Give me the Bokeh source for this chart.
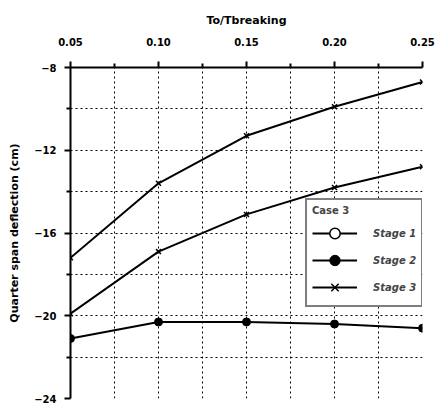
from bokeh.plotting import figure
from bokeh.models import ColumnDataSource, FixedTicker, Legend, LegendItem, CustomJSTickFormatter
from bokeh.embed import file_html
from bokeh.resources import INLINE

# Data
ratio = [0.05, 0.10, 0.15, 0.20, 0.25]
stage1 = [-17.2, -13.6, -11.3, -9.9, -8.7]
stage2 = [-21.1, -20.3, -20.3, -20.4, -20.6]
stage3 = [-19.9, -16.9, -15.1, -13.8, -12.8]
x_ticks = [0.05, 0.10, 0.15, 0.20, 0.25]
x_minor = [0.075, 0.125, 0.175, 0.225]
y_ticks = [-8, -12, -16, -20, -24]
y_minor = [-10, -14, -18, -22]

FONT = "DejaVu Sans"

p = figure(width=438, height=410, output_backend="svg", toolbar_location=None,
           x_range=(0.05, 0.25), y_range=(-24, -8), x_axis_location="above",
           min_border_left=70, min_border_right=16, min_border_top=67, min_border_bottom=12)
p.outline_line_color = None
p.background_fill_color = "white"
p.border_fill_color = "white"

src = ColumnDataSource(dict(x=ratio, s1=stage1, s2=stage2, s3=stage3))

l1 = p.line("x", "s1", source=src, line_color="black", line_width=2)
p.scatter("x", "s1", source=src, marker="x", size=7, line_color="black", line_width=1.5)
l2 = p.line("x", "s2", source=src, line_color="black", line_width=2)
m2 = p.scatter("x", "s2", source=src, marker="circle", size=8, fill_color="black", line_color="black")
l3 = p.line("x", "s3", source=src, line_color="black", line_width=2)
m3 = p.scatter("x", "s3", source=src, marker="x", size=7, line_color="black", line_width=1.5)

# legend-only open circle (placed outside the visible range)
offsrc = ColumnDataSource(dict(x=[-1.0], y=[-100.0]))
d1 = p.scatter("x", "y", source=offsrc, marker="circle", size=11, fill_color="white",
               line_color="black", line_width=1.5)

# Axes
xa = p.xaxis[0]
xa.ticker = FixedTicker(ticks=x_ticks, minor_ticks=x_minor)
xa.formatter = CustomJSTickFormatter(code="return tick.toFixed(2);")
xa.axis_label = "To/Tbreaking"
ya = p.yaxis[0]
ya.ticker = FixedTicker(ticks=y_ticks, minor_ticks=y_minor)
ya.axis_label = "Quarter span deflection (cm)"
for ax in (xa, ya):
    ax.axis_line_width = 2
    ax.axis_line_color = "black"
    ax.major_tick_line_color = "black"
    ax.major_tick_line_width = 2
    ax.major_tick_out = 6
    ax.major_tick_in = 0
    ax.minor_tick_line_color = "black"
    ax.minor_tick_line_width = 2
    ax.minor_tick_out = 4
    ax.minor_tick_in = 0
    ax.major_label_text_font = FONT
    ax.major_label_text_font_style = "bold"
    ax.major_label_text_font_size = "10px"
    ax.major_label_text_color = "black"
    ax.axis_label_text_font = FONT
    ax.axis_label_text_font_style = "bold"
    ax.axis_label_text_font_size = "11px"
    ax.axis_label_text_color = "black"
xa.major_label_standoff = 16
xa.axis_label_standoff = 8
ya.major_label_standoff = 8
ya.axis_label_standoff = 10

# Grid
for g in (p.xgrid[0], p.ygrid[0]):
    g.grid_line_color = "black"
    g.grid_line_dash = "2 3"
    g.grid_line_width = 1
    g.minor_grid_line_color = "black"
    g.minor_grid_line_dash = "2 3"
    g.minor_grid_line_width = 1

legend = Legend(items=[
    LegendItem(label="Stage 1", renderers=[l1, d1]),
    LegendItem(label="Stage 2", renderers=[l2, m2]),
    LegendItem(label="Stage 3", renderers=[l3, m3]),
], location=(235, 91), title="Case 3")
legend.border_line_color = "black"
legend.border_line_width = 2
legend.background_fill_color = "white"
legend.background_fill_alpha = 1
legend.glyph_width = 45
legend.glyph_height = 26
legend.label_standoff = 16
legend.spacing = 1
legend.padding = 5
legend.margin = 0
legend.label_text_font = FONT
legend.label_text_font_style = "bold italic"
legend.label_text_font_size = "10px"
legend.title_text_font = FONT
legend.title_text_font_style = "bold"
legend.title_text_font_size = "10px"
legend.title_text_align = "center"
legend.title_standoff = 4
p.add_layout(legend, "center")

open("out.html", "w").write(file_html(p, INLINE))
